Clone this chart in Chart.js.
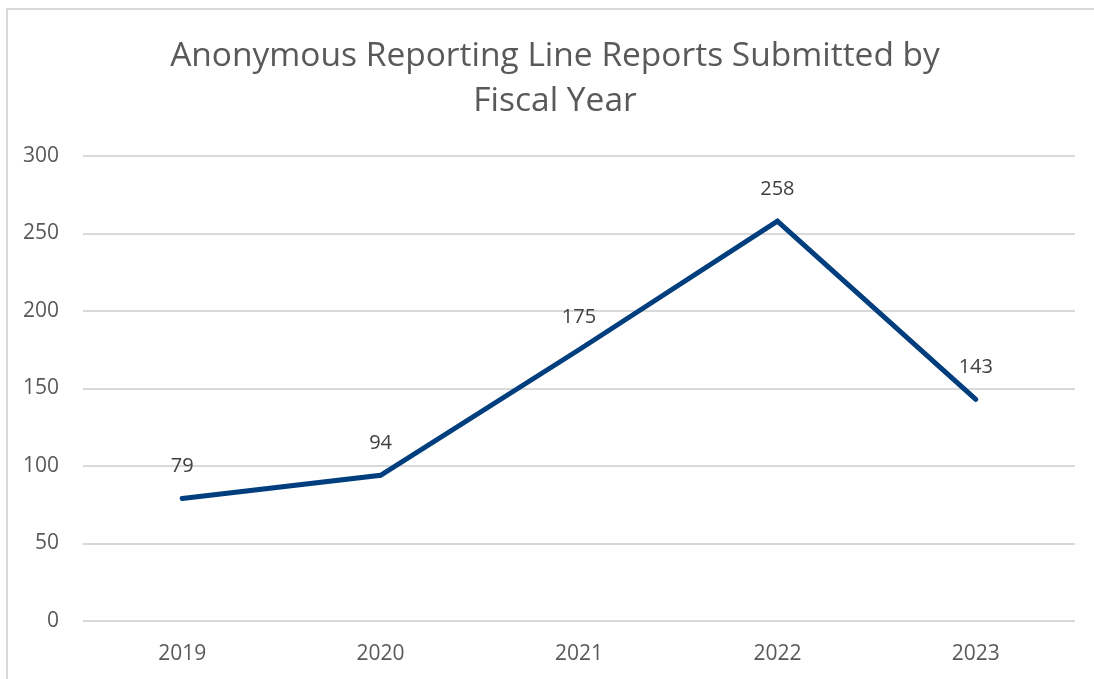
<!DOCTYPE html>
<html>
<head>
<meta charset="utf-8">
<script src="https://cdn.jsdelivr.net/npm/chart.js@4/dist/chart.umd.min.js"></script>
<style>
  html, body { margin: 0; padding: 0; background: #ffffff; }
  #wrap { width: 1094px; height: 679px; position: relative; }
</style>
</head>
<body>
<div id="wrap"><canvas id="chart" width="1094" height="679"></canvas></div>
<script>
// Fiscal years and the number of reports submitted in each
const fiscalYears = ['2019', '2020', '2021', '2022', '2023'];
const reportsSubmitted = [79, 94, 175, 258, 143];
const yTicks = [0, 50, 100, 150, 200, 250, 300];
const titleLines = ['Anonymous Reporting Line Reports Submitted by', 'Fiscal Year'];

const FONT = '"Open Sans", "Noto Sans", sans-serif';
const TEXT_GREY = '#595959';

// White background and a light frame around the chart
const framePlugin = {
  id: 'frame',
  beforeDraw(chart) {
    const ctx = chart.ctx;
    ctx.save();
    ctx.fillStyle = '#ffffff';
    ctx.fillRect(0, 0, chart.width, chart.height);
    ctx.strokeStyle = '#d9d9d9';
    ctx.lineWidth = 2;
    ctx.strokeRect(7, 9, chart.width + 20, chart.height + 20);
    ctx.restore();
  }
};

// Two-line heading, centred on the frame rather than the canvas
const headingPlugin = {
  id: 'heading',
  afterDraw(chart) {
    const ctx = chart.ctx;
    ctx.save();
    ctx.font = '33.5px ' + FONT;
    ctx.fillStyle = TEXT_GREY;
    ctx.textAlign = 'center';
    ctx.textBaseline = 'middle';
    titleLines.forEach((line, i) => {
      ctx.fillText(line, 555, 56 + i * 45);
    });
    ctx.restore();
  }
};

// Value labels above each point
const valueLabelPlugin = {
  id: 'valueLabels',
  afterDatasetsDraw(chart) {
    const ctx = chart.ctx;
    ctx.save();
    ctx.font = '20px ' + FONT;
    ctx.fillStyle = '#404040';
    ctx.textAlign = 'center';
    ctx.textBaseline = 'middle';
    chart.data.datasets.forEach((ds, i) => {
      chart.getDatasetMeta(i).data.forEach((pt, j) => {
        ctx.fillText(String(ds.data[j]), pt.x, pt.y - 32);
      });
    });
    ctx.restore();
  }
};

new Chart(document.getElementById('chart'), {
  type: 'line',
  data: {
    labels: fiscalYears,
    datasets: [{
      label: 'Reports',
      data: reportsSubmitted,
      borderColor: '#003e7e',
      backgroundColor: '#003e7e',
      borderWidth: 5,
      borderCapStyle: 'round',
      borderJoinStyle: 'miter',
      pointRadius: 0,
      tension: 0,
      fill: false
    }]
  },
  options: {
    responsive: false,
    animation: false,
    devicePixelRatio: 1,
    layout: { padding: { left: 0, right: 19, top: 156, bottom: 0 } },
    plugins: {
      legend: { display: false },
      tooltip: { enabled: false },
      title: { display: false }
    },
    scales: {
      x: {
        offset: true,
        grid: { display: false, drawTicks: false },
        border: { display: false },
        ticks: {
          color: TEXT_GREY,
          font: { family: FONT, size: 21 },
          padding: 20,
          maxRotation: 0
        },
        afterFit(scale) { scale.height = 58; }
      },
      y: {
        min: 0,
        max: 300,
        afterBuildTicks(scale) { scale.ticks = yTicks.map(v => ({ value: v })); },
        grid: { color: '#d9d9d9', lineWidth: 2, drawTicks: false },
        border: { display: false },
        ticks: {
          color: TEXT_GREY,
          font: { family: FONT, size: 21 },
          padding: 24
        },
        afterFit(scale) { scale.width = 83; }
      }
    }
  },
  plugins: [framePlugin, headingPlugin, valueLabelPlugin]
});
</script>
</body>
</html>
